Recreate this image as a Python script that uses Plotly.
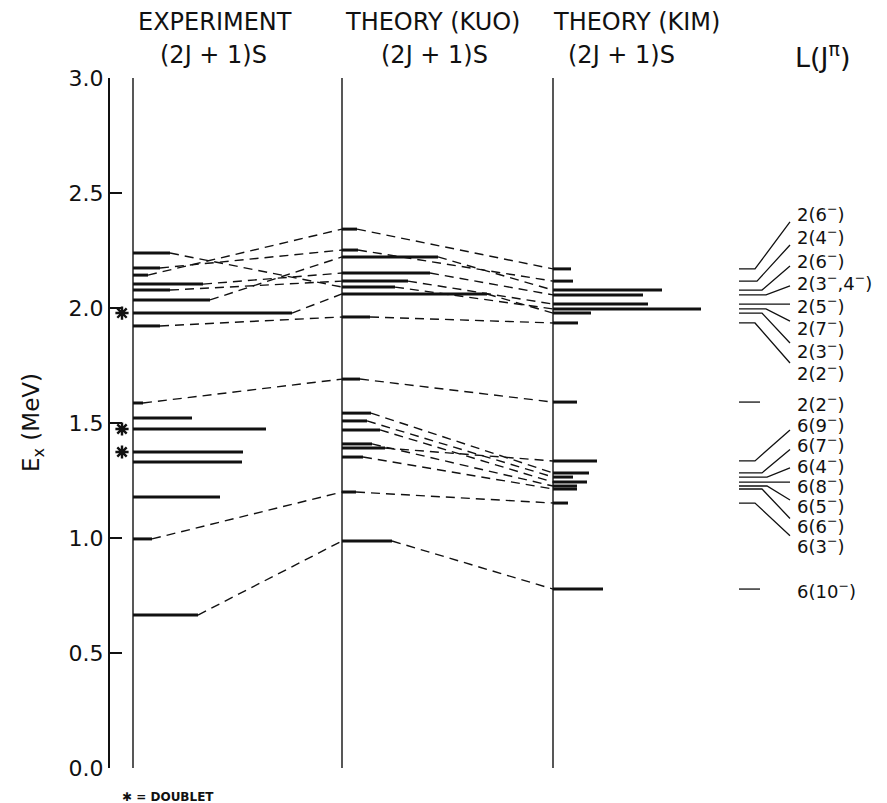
import plotly.graph_objects as go

# ---------------- data (energies in MeV, strengths (2J+1)S in arbitrary units) ----------------
exp_energy = [2.239, 2.174, 2.143, 2.104, 2.078, 2.035, 1.978, 1.922,
              1.587, 1.522, 1.474, 1.374, 1.330, 1.178, 0.996, 0.665]
exp_strength = [3.7, 2.7, 1.5, 7.0, 3.7, 7.7, 15.9, 2.7,
                1.0, 5.9, 13.3, 11.0, 10.9, 8.7, 1.9, 6.5]
exp_doublets = [1.978, 1.474, 1.374]

kuo_energy = [2.343, 2.252, 2.222, 2.152, 2.117, 2.091, 2.061, 1.961,
              1.691, 1.543, 1.509, 1.470, 1.409, 1.391, 1.352, 1.200, 0.987]
kuo_strength = [1.5, 1.6, 9.6, 8.8, 6.6, 5.3, 14.5, 2.8,
                1.8, 2.9, 2.5, 3.8, 3.0, 4.3, 2.1, 1.4, 5.0]

kim_energy = [2.170, 2.117, 2.078, 2.057, 2.017, 1.996, 1.978, 1.935,
              1.591, 1.335, 1.283, 1.265, 1.243, 1.226, 1.213, 1.152, 0.778]
kim_strength = [1.8, 2.0, 10.9, 9.0, 9.5, 14.8, 3.8, 2.5,
                2.4, 4.4, 3.6, 2.0, 3.4, 2.4, 2.4, 1.5, 5.0]
kim_labels = ["2(6<sup>−</sup>)", "2(4<sup>−</sup>)", "2(6<sup>−</sup>)", "2(3<sup>−</sup>,4<sup>−</sup>)",
              "2(5<sup>−</sup>)", "2(7<sup>−</sup>)", "2(3<sup>−</sup>)", "2(2<sup>−</sup>)",
              "2(2<sup>−</sup>)", "6(9<sup>−</sup>)", "6(7<sup>−</sup>)", "6(4<sup>−</sup>)",
              "6(8<sup>−</sup>)", "6(5<sup>−</sup>)", "6(6<sup>−</sup>)", "6(3<sup>−</sup>)",
              "6(10<sup>−</sup>)"]

# correspondences (index in experiment -> index in KUO, index in KUO -> index in KIM)
exp_to_kuo = [(15, 16), (14, 15), (8, 8), (7, 7), (6, 6), (5, 2), (4, 4),
              (3, 3), (2, 0), (1, 1), (0, 5)]
kuo_to_kim = [(16, 16), (15, 15), (8, 8), (7, 7), (0, 0), (1, 1), (2, 2),
              (3, 3), (4, 4), (5, 5), (6, 6), (9, 10), (10, 11), (11, 12),
              (12, 13), (13, 9), (14, 14)]

y_ticks = [0.0, 0.5, 1.0, 1.5, 2.0, 2.5, 3.0]
y_tick_text = ["0.0", "0.5", "1.0", "1.5", "2.0", "2.5", "3.0"]

# ---------------- layout positions (not data) ----------------
BASE_EXP, BASE_KUO, BASE_KIM = 0.0, 20.9, 42.0
RIGHT_START = 60.6
RIGHT_LABEL_X = 66.2
# label vertical positions (MeV units) and leader-line geometry for the L(J^pi) column
label_pos = [2.413, 2.313, 2.209, 2.113, 2.013, 1.917, 1.817, 1.722,
             1.587, 1.496, 1.407, 1.317, 1.230, 1.143, 1.057, 0.970, 0.774]
conn_end = [2.374, 2.274, 2.183, 2.096, 2.017, 1.943, 1.848, 1.761,
            None, 1.470, 1.385, 1.305, 1.243, 1.165, 1.085, 1.010, None]
bend_x = [62.2, 62.4, 62.9, 63.3, 63.6, 63.3, 62.9, 62.2,
          None, 62.2, 62.9, 63.4, 63.6, 63.4, 62.9, 62.2, None]
CONN_X = 65.7
SHORT_END = 62.7

FONT = "DejaVu Sans"
BLACK = "#111111"

fig = go.Figure()

# column baselines
for b in (BASE_EXP, BASE_KUO, BASE_KIM):
    fig.add_trace(go.Scatter(x=[b, b], y=[0, 3], mode="lines",
                             line=dict(color=BLACK, width=1.4),
                             hoverinfo="skip", showlegend=False))


def level_trace(base, energies, strengths):
    xs, ys = [], []
    for e, s in zip(energies, strengths):
        xs += [base, base + s, None]
        ys += [e, e, None]
    return go.Scatter(x=xs, y=ys, mode="lines", line=dict(color=BLACK, width=3),
                      hoverinfo="skip", showlegend=False, cliponaxis=False)


fig.add_trace(level_trace(BASE_EXP, exp_energy, exp_strength))
fig.add_trace(level_trace(BASE_KUO, kuo_energy, kuo_strength))
fig.add_trace(level_trace(BASE_KIM, kim_energy, kim_strength))


# dashed correspondence lines
def connectors(base_a, ea, sa, base_b, eb, pairs):
    xs, ys = [], []
    for i, j in pairs:
        xs += [base_a + sa[i], base_b, None]
        ys += [ea[i], eb[j], None]
    return go.Scatter(x=xs, y=ys, mode="lines",
                      line=dict(color=BLACK, width=1.4, dash="9px,6px"),
                      hoverinfo="skip", showlegend=False)


fig.add_trace(connectors(BASE_EXP, exp_energy, exp_strength, BASE_KUO, kuo_energy, exp_to_kuo))
fig.add_trace(connectors(BASE_KUO, kuo_energy, kuo_strength, BASE_KIM, kim_energy, kuo_to_kim))

# doublet markers
fig.add_trace(go.Scatter(x=[-1.1] * len(exp_doublets), y=exp_doublets, mode="markers",
                         marker=dict(symbol="asterisk-open", size=11, color=BLACK,
                                     line=dict(color=BLACK, width=2.4)),
                         hoverinfo="skip", showlegend=False, cliponaxis=False))

# L(J^pi) level diagram with leader lines
xs, ys = [], []
for e, ce, bx in zip(kim_energy, conn_end, bend_x):
    if bx is None:
        xs += [RIGHT_START, SHORT_END, None]
        ys += [e, e, None]
    else:
        xs += [RIGHT_START, bx, CONN_X, None]
        ys += [e, e, ce, None]
fig.add_trace(go.Scatter(x=xs, y=ys, mode="lines", line=dict(color=BLACK, width=1.3),
                         hoverinfo="skip", showlegend=False, cliponaxis=False))

for lab, lp in zip(kim_labels, label_pos):
    fig.add_annotation(x=RIGHT_LABEL_X, y=lp, xref="x", yref="y", text=lab,
                       showarrow=False, xanchor="left", yanchor="middle",
                       font=dict(family=FONT, size=18, color=BLACK))

# headers
headers = [
    ("EXPERIMENT", 8.2, 1.081, 24), ("(2J + 1)S", 8.0, 1.033, 24),
    ("THEORY (KUO)", 29.9, 1.081, 24), ("(2J + 1)S", 30.1, 1.033, 24),
    ("THEORY (KIM)", 50.3, 1.081, 24), ("(2J + 1)S", 48.8, 1.033, 24),
    ("L(J<sup>π</sup>)", 68.9, 1.033, 27),
]
for txt, xx, yy, fs in headers:
    fig.add_annotation(x=xx, y=yy, xref="x", yref="paper", text=txt, showarrow=False,
                       xanchor="center", yanchor="middle",
                       font=dict(family=FONT, size=fs, color=BLACK))

# y-axis title and footnote
fig.add_annotation(x=-0.099, y=0.5, xref="paper", yref="paper",
                   text="E<sub>x</sub> (MeV)", textangle=-90, showarrow=False,
                   xanchor="center", yanchor="middle",
                   font=dict(family=FONT, size=23, color=BLACK))
fig.add_annotation(x=0.013, y=-0.042, xref="paper", yref="paper",
                   text="<b>✱ = DOUBLET</b>", showarrow=False,
                   xanchor="left", yanchor="middle",
                   font=dict(family=FONT, size=12, color=BLACK))

# page body adds an 8 px offset, so the figure is drawn 8 px smaller
fig.update_layout(
    width=879, height=795,
    margin=dict(l=102, r=0, t=70, b=35, autoexpand=False),
    paper_bgcolor="white", plot_bgcolor="white",
    xaxis=dict(visible=False, range=[-2.3, 75.4], fixedrange=True),
    yaxis=dict(range=[0, 3], tickvals=y_ticks, ticktext=y_tick_text,
               showline=True, linewidth=2, linecolor=BLACK,
               ticks="inside", ticklen=12, tickwidth=2, tickcolor=BLACK,
               showgrid=False, zeroline=False,
               tickfont=dict(family=FONT, size=22, color=BLACK)),
)

fig.write_html("out.html")
